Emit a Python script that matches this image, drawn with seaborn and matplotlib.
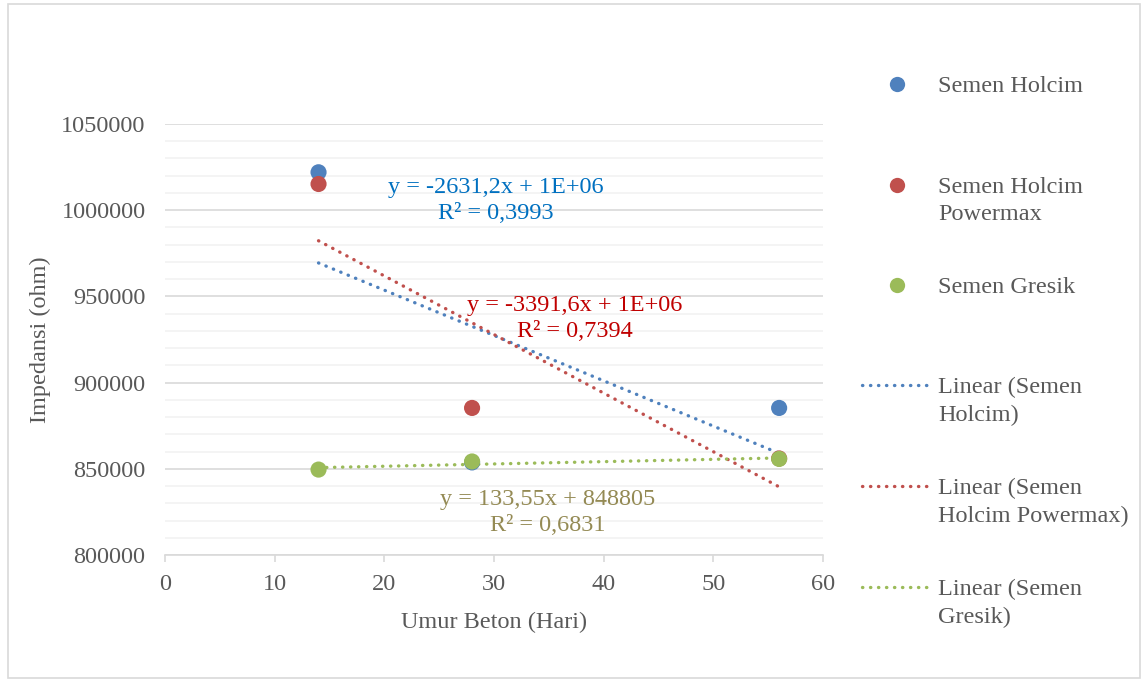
import numpy as np
import pandas as pd
import seaborn as sns
import matplotlib
matplotlib.use("Agg")
import matplotlib.pyplot as plt
from matplotlib.lines import Line2D
from matplotlib.patches import Rectangle
from matplotlib.ticker import MultipleLocator, FuncFormatter

# ---- data ----
days = [14, 28, 56]
holcim = [1022000, 853700, 885300]
powermax = [1015200, 885300, 856000]
gresik = [849550, 854250, 855725]
series_names = ["Semen Holcim", "Semen Holcim Powermax", "Semen Gresik"]
legend_point_labels = ["Semen Holcim", "Semen Holcim\nPowermax", "Semen Gresik"]
legend_line_labels = ["Linear (Semen\nHolcim)", "Linear (Semen\nHolcim Powermax)", "Linear (Semen\nGresik)"]
eq_texts = ["y = -2631,2x + 1E+06\nR² = 0,3993",
            "y = -3391,6x + 1E+06\nR² = 0,7394",
            "y = 133,55x + 848805\nR² = 0,6831"]
x_ticks = [0, 10, 20, 30, 40, 50, 60]
y_ticks = [800000, 850000, 900000, 950000, 1000000, 1050000]

# ---- styles ----
colors = ["#4F81BD", "#C0504D", "#9BBB59"]
eq_colors = ["#0070C0", "#C00000", "#948A54"]
eq_pos = [(30.2, 1005500), (37.4, 937000), (34.9, 824500)]
text_col = "#595959"
FS = 17.5

sns.set_theme(style="white")
plt.rcParams["font.family"] = ["Liberation Serif", "DejaVu Serif"]
plt.rcParams["text.color"] = text_col

df = pd.DataFrame({
    "Umur": days * 3,
    "Impedansi": holcim + powermax + gresik,
    "Seri": sum([[n] * len(days) for n in series_names], []),
})

fig = plt.figure(figsize=(11.46, 6.82), dpi=100)
fig.patch.set_facecolor("white")
ax = fig.add_axes([165 / 1146, 1 - 555 / 682, (823 - 165) / 1146, (555 - 124) / 682])

dots = (0, (0.1, 2.3))
for name, col in zip(series_names, colors):
    sub = df[df["Seri"] == name]
    sns.regplot(data=sub, x="Umur", y="Impedansi", scatter=False, ci=None,
                truncate=True, ax=ax,
                line_kws=dict(color=col, linestyle=dots, linewidth=2.4,
                              dash_capstyle="round", zorder=3))

sns.scatterplot(data=df, x="Umur", y="Impedansi", hue="Seri",
                hue_order=series_names, palette=colors, s=135,
                edgecolor="none", legend=False, ax=ax, zorder=4)

for t, c, (px, py) in zip(eq_texts, eq_colors, eq_pos):
    ax.text(px, py, t, color=c, fontsize=FS, ha="center", va="center",
            multialignment="center", linespacing=1.3, zorder=5)

ax.set_xlim(0, 60)
ax.set_ylim(800000, 1050000)
ax.set_xticks(x_ticks)
ax.set_yticks(y_ticks)
ax.yaxis.set_major_formatter(FuncFormatter(lambda v, p: f"{int(round(v))}"))
ax.yaxis.set_minor_locator(MultipleLocator(10000))
ax.grid(axis="y", which="major", color="#D9D9D9", linewidth=1.2, zorder=0)
ax.grid(axis="y", which="minor", color="#F2F2F2", linewidth=1.2, zorder=0)
ax.grid(axis="x", visible=False)
ax.set_axisbelow(True)
for s in ["top", "right", "left"]:
    ax.spines[s].set_visible(False)
ax.spines["bottom"].set_color("#D9D9D9")
ax.spines["bottom"].set_linewidth(1.2)
ax.tick_params(axis="x", which="major", direction="out", length=5, width=1.2,
               color="#D9D9D9", labelsize=FS, labelcolor=text_col, pad=9, bottom=True)
ax.tick_params(axis="y", which="both", length=0, labelsize=FS, labelcolor=text_col, pad=14)
ax.set_xlabel("Umur Beton (Hari)", fontsize=FS, color=text_col, labelpad=12)
ax.set_ylabel("Impedansi (ohm)", fontsize=FS, color=text_col, labelpad=7)

# ---- legend (one entry per legend box, second label lines as text) ----
handles = [Line2D([], [], linestyle="none", marker="o", markersize=11,
                  markerfacecolor=c, markeredgecolor="none") for c in colors]
handles += [Line2D([], [], color=c, linestyle=dots, linewidth=2.4,
                   dash_capstyle="round") for c in colors]
labels = legend_point_labels + legend_line_labels
ys = [86, 187, 287, 387, 488, 589]
fs_px = FS * 100 / 72
for h, lab, yy in zip(handles, labels, ys):
    lines = lab.split("\n")
    leg = fig.legend(handles=[h], labels=[lines[0]], loc="center left",
                     bbox_to_anchor=(862 / 1146, 1 - yy / 682), frameon=False,
                     borderpad=0, borderaxespad=0, handlelength=70 / fs_px,
                     handletextpad=6 / fs_px, fontsize=FS)
    for t in leg.get_texts():
        t.set_color(text_col)
    for k, extra in enumerate(lines[1:], start=1):
        fig.text(938 / 1146, 1 - (yy + 28 * k) / 682, extra, fontsize=FS,
                 color=text_col, ha="left", va="center")

fig.add_artist(Rectangle((8 / 1146, 4 / 682), 1132 / 1146, 674 / 682,
                         transform=fig.transFigure, fill=False,
                         edgecolor="#D9D9D9", linewidth=1.2))

fig.savefig("out.png", dpi=100, facecolor="white")
